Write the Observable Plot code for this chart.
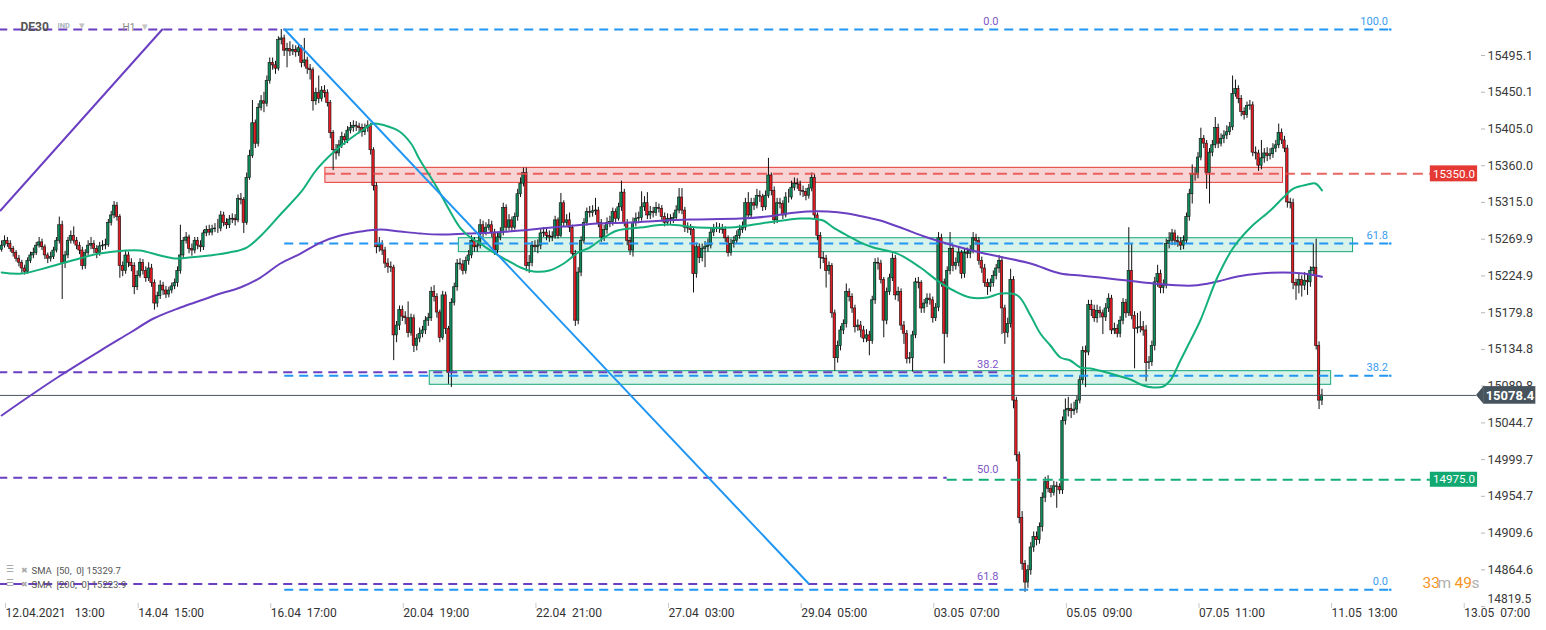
<!DOCTYPE html>
<html><head><meta charset="utf-8">
<script src="https://cdn.jsdelivr.net/npm/d3@7"></script>
<script src="https://cdn.jsdelivr.net/npm/@observablehq/plot@0.6"></script>
<style>
html,body{margin:0;padding:0;background:#fff;}
#chart svg{display:block;}
</style></head><body><div id="chart"></div>
<script>
// ---- hourly DE30 candles (bar index 0..458), open = previous close ----
const firstOpen = 15257;
const closes = [
15262,15268,15264,15258,15253,15246,15241,15234,15230,15243,
15250,15253,15262,15266,15260,15250,15246,15248,15256,15268,
15287,15241,15250,15268,15274,15268,15262,15256,15237,15253,
15262,15264,15258,15253,15261,15262,15263,15290,15299,15311,
15297,15237,15231,15250,15241,15237,15211,15225,15241,15231,
15222,15234,15216,15191,15200,15213,15207,15202,15207,15212,
15216,15231,15250,15268,15272,15258,15256,15268,15262,15260,
15277,15281,15278,15282,15283,15283,15299,15290,15287,15294,
15295,15293,15319,15318,15290,15345,15372,15412,15387,15431,
15439,15436,15464,15486,15483,15479,15514,15516,15501,15503,
15500,15502,15499,15504,15486,15489,15479,15477,15439,15449,
15442,15452,15449,15437,15400,15379,15375,15385,15395,15391,
15403,15406,15409,15408,15406,15401,15406,15409,15379,15335,
15260,15264,15256,15240,15236,15235,15152,15164,15183,15175,
15173,15155,15173,15139,15148,15154,15158,15170,15173,15205,
15199,15180,15149,15201,15160,15106,15192,15211,15240,15239,
15231,15243,15250,15268,15260,15262,15287,15278,15284,15287,
15278,15256,15272,15278,15308,15284,15293,15284,15297,15325,
15338,15351,15237,15241,15262,15260,15262,15277,15278,15274,
15272,15273,15293,15274,15314,15290,15293,15284,15252,15170,
15229,15268,15290,15303,15302,15304,15305,15290,15272,15281,
15290,15291,15303,15295,15309,15327,15290,15268,15256,15290,
15295,15296,15309,15314,15299,15303,15302,15308,15307,15297,
15290,15295,15294,15296,15305,15321,15305,15284,15283,15281,
15227,15260,15247,15258,15260,15262,15278,15283,15284,15283,
15281,15271,15253,15264,15268,15274,15281,15284,15314,15299,
15314,15311,15323,15322,15309,15323,15348,15329,15293,15314,
15313,15299,15321,15321,15333,15338,15337,15329,15328,15323,
15332,15345,15299,15274,15247,15246,15231,15237,15179,15124,
15139,15158,15166,15205,15199,15185,15162,15164,15158,15148,
15152,15145,15195,15241,15240,15220,15170,15205,15222,15246,
15201,15205,15164,15154,15123,15124,15152,15217,15216,15185,
15191,15197,15195,15173,15186,15271,15217,15154,15231,15258,
15237,15241,15253,15227,15253,15252,15256,15271,15268,15243,
15234,15216,15211,15216,15225,15234,15243,15185,15155,15166,
15220,15072,15005,14928,14872,14849,14864,14892,14905,14901,
14917,14953,14972,14964,14959,14967,14966,14962,15047,15060,
15062,15059,15061,15072,15097,15133,15131,15189,15183,15173,
15182,15179,15174,15185,15197,15158,15160,15154,15170,15192,
15179,15231,15176,15160,15161,15162,15158,15118,15119,15139,
15217,15227,15210,15213,15264,15268,15277,15268,15266,15262,
15268,15297,15325,15350,15349,15370,15393,15387,15351,15376,
15385,15406,15387,15393,15397,15401,15407,15448,15454,15442,
15426,15422,15433,15434,15376,15375,15360,15369,15375,15372,
15374,15381,15385,15400,15391,15381,15315,15314,15216,15213,
15220,15213,15219,15217,15231,15235,15139,15072,15078.4];
const highs = [
15268,15274,15272,15268,15261,15256,15250,15244,15238,15247,
15254,15259,15266,15272,15270,15263,15253,15254,15260,15272,
15297,15292,15255,15272,15280,15285,15272,15266,15260,15257,
15268,15272,15268,15262,15266,15268,15270,15294,15304,15316,
15315,15300,15242,15255,15254,15246,15241,15231,15246,15245,
15236,15241,15239,15220,15205,15219,15217,15212,15211,15216,
15221,15236,15287,15272,15278,15275,15264,15272,15272,15268,
15281,15286,15287,15287,15289,15294,15304,15303,15295,15299,
15301,15300,15324,15326,15321,15351,15379,15440,15416,15436,
15446,15450,15470,15492,15492,15488,15518,15527,15520,15510,
15512,15508,15507,15508,15507,15516,15493,15484,15480,15455,
15470,15457,15458,15453,15440,15403,15386,15391,15401,15399,
15408,15413,15415,15414,15412,15411,15411,15415,15412,15382,
15339,15272,15268,15260,15246,15242,15238,15169,15188,15188,
15181,15193,15178,15177,15153,15161,15163,15175,15179,15211,
15213,15203,15183,15206,15205,15163,15197,15216,15245,15246,
15244,15248,15256,15274,15272,15268,15294,15292,15290,15294,
15292,15282,15278,15284,15314,15312,15300,15297,15302,15331,
15345,15357,15357,15250,15267,15268,15269,15282,15284,15283,
15280,15279,15298,15296,15326,15317,15300,15302,15287,15256,
15235,15273,15295,15308,15310,15311,15320,15309,15294,15287,
15296,15298,15308,15307,15314,15341,15331,15294,15272,15296,
15302,15303,15328,15322,15327,15310,15309,15315,15313,15311,
15302,15301,15300,15302,15311,15332,15332,15309,15290,15288,
15284,15265,15264,15264,15267,15270,15284,15288,15290,15289,
15288,15285,15274,15270,15273,15280,15287,15291,15320,15327,
15320,15320,15331,15329,15325,15329,15369,15351,15334,15320,
15320,15317,15327,15331,15341,15345,15344,15341,15335,15332,
15337,15351,15349,15302,15278,15254,15250,15242,15240,15183,
15145,15163,15171,15215,15209,15203,15189,15171,15169,15163,
15159,15157,15200,15246,15247,15244,15223,15210,15227,15252,
15250,15211,15209,15169,15158,15131,15157,15222,15223,15219,
15196,15203,15203,15199,15191,15278,15276,15221,15236,15278,
15262,15247,15260,15256,15258,15259,15262,15278,15276,15272,
15248,15239,15221,15221,15231,15239,15250,15248,15189,15173,
15233,15224,15076,15009,14936,14876,14870,14898,14911,14911,
14922,14959,14978,14980,14968,14973,14972,14970,15052,15074,
15076,15068,15070,15078,15102,15138,15139,15195,15195,15189,
15189,15187,15183,15191,15203,15201,15167,15165,15175,15197,
15196,15284,15264,15181,15179,15181,15169,15164,15126,15145,
15223,15238,15232,15220,15270,15278,15282,15281,15274,15272,
15274,15302,15331,15361,15357,15376,15406,15397,15391,15381,
15391,15419,15411,15399,15403,15409,15413,15470,15465,15458,
15446,15431,15438,15440,15438,15383,15379,15391,15381,15382,
15381,15387,15391,15411,15405,15396,15385,15320,15319,15221,
15227,15225,15229,15227,15236,15264,15270,15144,15086];
const lows = [
15254,15259,15260,15254,15248,15242,15236,15228,15226,15227,
15240,15246,15250,15259,15256,15245,15240,15242,15245,15253,
15264,15196,15234,15246,15264,15264,15257,15251,15232,15233,
15249,15257,15252,15246,15249,15256,15257,15260,15286,15295,
15292,15222,15224,15227,15235,15230,15202,15207,15222,15226,
15217,15218,15211,15183,15186,15196,15201,15197,15198,15203,
15208,15211,15227,15246,15264,15252,15249,15252,15257,15254,
15256,15273,15274,15274,15278,15277,15279,15285,15282,15283,
15289,15286,15290,15312,15277,15287,15342,15369,15381,15383,
15427,15425,15432,15460,15477,15472,15476,15508,15494,15480,
15494,15495,15493,15494,15480,15481,15472,15465,15427,15434,
15436,15438,15443,15432,15393,15354,15367,15371,15381,15385,
15387,15399,15401,15402,15399,15395,15397,15401,15373,15329,
15252,15254,15250,15234,15228,15229,15121,15143,15158,15169,
15165,15149,15151,15131,15133,15143,15149,15153,15163,15169,
15193,15173,15143,15146,15153,15092,15088,15188,15206,15232,
15226,15227,15238,15246,15254,15254,15258,15272,15274,15280,
15272,15250,15252,15268,15274,15278,15280,15278,15281,15292,
15321,15334,15230,15228,15236,15254,15252,15257,15272,15268,
15266,15267,15270,15270,15272,15285,15286,15278,15248,15163,
15165,15224,15264,15286,15296,15297,15299,15284,15266,15267,
15276,15284,15286,15290,15292,15304,15285,15262,15250,15248,
15285,15289,15292,15304,15294,15294,15296,15298,15302,15291,
15285,15286,15288,15289,15292,15301,15300,15278,15277,15274,
15204,15222,15240,15242,15235,15254,15258,15273,15278,15277,
15276,15266,15248,15249,15259,15264,15270,15277,15280,15294,
15295,15305,15307,15315,15304,15305,15320,15323,15288,15289,
15307,15294,15296,15314,15318,15329,15331,15323,15321,15317,
15319,15328,15294,15268,15233,15240,15210,15226,15173,15108,
15118,15133,15153,15161,15193,15179,15155,15157,15149,15143,
15143,15127,15141,15190,15232,15215,15149,15165,15201,15218,
15195,15193,15158,15141,15117,15117,15107,15148,15209,15179,
15179,15186,15189,15167,15169,15181,15211,15117,15149,15226,
15230,15232,15236,15221,15222,15246,15246,15252,15262,15238,
15228,15211,15201,15205,15211,15220,15228,15153,15141,15149,
15161,15062,14997,14921,14864,14837,14842,14858,14886,14894,
14896,14911,14947,14959,14953,14955,14940,14957,14957,15042,
15052,15050,15054,15056,15068,15092,15088,15127,15175,15168,
15167,15173,15153,15169,15180,15153,15153,15149,15149,15165,
15173,15175,15171,15111,15154,15155,15151,15095,15110,15114,
15133,15211,15203,15203,15209,15258,15262,15262,15260,15256,
15257,15264,15292,15313,15341,15344,15366,15381,15331,15313,
15371,15381,15381,15383,15387,15392,15397,15403,15444,15436,
15420,15416,15418,15428,15371,15367,15353,15355,15363,15365,
15367,15369,15376,15381,15386,15376,15308,15307,15208,15195,
15203,15199,15207,15201,15211,15226,15134,15061,15066];

// ---- moving averages (sampled by bar index) ----
const sma50Idx = [0,7,17,27,34,43,48,55,60,65,72,79,85,90,97,104,109,115,121,125.5,129,133,138,142,145,151,155,159,162.6,166,170.6,175.5,180,184.5,190,195,200,204,209,213.6,221.6,231,241.4,252.8,265.6,277,280.6,285,288.5,293.4,298,302.4,310.7,318.7,324.6,330.2,336,342,346.5,352.4,356.9,360.3,363.8,367.3,370.7,374.2,377.7,384.6,391.6,396,399.5,403,405.4,408.9,412.4,415.8,421.7,427.3,433.2,440.1,444.6,448.1,453,455.7,458];
const sma50Val = [15229.1,15227.8,15236.4,15246.2,15252.3,15256.0,15256.0,15249.9,15246.2,15247.4,15249.9,15253.6,15259.7,15274.4,15301.4,15328.4,15354.1,15376.2,15393.3,15404.4,15411.7,15409.3,15401.9,15387.2,15367.6,15333.3,15307.5,15284.2,15272.0,15264.6,15253.6,15243.8,15235.2,15230.3,15231.5,15240.1,15253.6,15259.7,15272.0,15280.5,15284.2,15287.9,15284.2,15284.2,15290.3,15295.2,15295.2,15292.8,15284.2,15274.4,15265.8,15259.7,15252.3,15235.2,15219.2,15207.0,15198.4,15198.4,15203.3,15200.9,15176.3,15154.3,15139.6,15124.9,15121.2,15112.6,15111.4,15105.2,15097.9,15090.5,15088.1,15089.3,15096.7,15121.2,15145.7,15170.2,15222.9,15259.7,15284.2,15305.1,15321.0,15332.0,15336.9,15338.2,15329.7];
const sma200Idx = [0,10,20.4,34.3,44.7,52.7,62,69,75.9,82.8,89.8,96.7,103.7,110.6,117.5,124.5,131.4,138.3,145.3,152.2,161.6,170.6,180,186.9,194.9,206.7,218.1,229.6,238.9,256.3,265.6,272.6,279.5,286.5,293.4,300.3,304.8,311.8,321.1,330.2,339.5,347.5,356.9,367.3,374.2,381.1,390.5,399.5,413.4,421.7,428.7,436.6,444.6,451.6,458];
const sma200Val = [15053.8,15078.3,15102.8,15133.4,15155.5,15172.7,15186.1,15194.7,15203.3,15210.7,15222.9,15240.1,15252.3,15265.8,15274.4,15279.3,15281.8,15279.3,15276.9,15275.6,15276.9,15278.1,15280.5,15283.0,15285.4,15289.1,15290.3,15292.8,15294.0,15295.2,15297.7,15301.4,15303.8,15303.8,15301.4,15296.5,15292.8,15284.2,15272.0,15262.2,15253.6,15247.4,15240.1,15227.8,15225.4,15222.9,15219.2,15215.6,15213.1,15218.0,15224.1,15227.8,15229.1,15227.8,15223.9];

// ---- drawings (bar index / price) ----
const purpleFibLevels = [15527, 15106.8, 14977.4, 14847.2];
const purpleFibNames = ["0.0","38.2","50.0","61.8"];
const purpleFibStart = [-1, -1, -1, -1];
const purpleFibEnd = [98.2, 347.2, 328, 347.2];
const purpleFibLabelAt = 345.8;
const blueFibLevels = [15527, 15264.6, 15102.5, 14840.1];
const blueFibNames = ["100.0","61.8","38.2","0.0"];
const blueFibStart = 98.2, blueFibEnd = 481.7, blueFibLabelAt = 480.9;
const blueTrendIdx = [98.2, 279.9], blueTrendVal = [15527, 14847.8];
const purpleTrendIdx = [-0.4, 55.7], purpleTrendVal = [15305.1, 15527];
const redZone = {x1: 112.3, x2: 444.5, y1: 15339.0, y2: 15357.4};
const greenZoneX1 = [158.6, 148.5], greenZoneX2 = [468.8, 461.2];
const greenZoneY1 = [15254.0, 15091.4], greenZoneY2 = [15271.1, 15108.1];
const resistance = 15350.0, resistanceFrom = 112.3;
const support = 14975.0, supportFrom = 328;
const levelTo = 495.6, tagTo = 512.0;
const lastPrice = 15078.4;
const sma50Last = "15329.7", sma200Last = "15223.9";

// ---- axes ----
const xTickIdx = [1,47,93,139,185,231,277,323,369,415,461,507];
const NB = "\u00a0";
const xTickLabels = ["12.04.2021"+NB+NB+NB+"13:00","14.04"+NB+NB+"15:00","16.04"+NB+NB+"17:00","20.04"+NB+NB+"19:00","22.04"+NB+NB+"21:00","27.04"+NB+NB+"03:00","29.04"+NB+NB+"05:00","03.05"+NB+NB+"07:00","05.05"+NB+NB+"09:00","07.05"+NB+NB+"11:00","11.05"+NB+NB+"13:00","13.05"+NB+NB+"07:00"];
const yTickValues = [15495.1,15450.1,15405.0,15360.0,15315.0,15269.9,15224.9,15179.8,15134.8,15089.8,15044.7,14999.7,14954.7,14909.6,14864.6,14819.5];

// ---- build tables ----
const candles = closes.map((c, i) => {
  const o = i ? closes[i-1] : firstOpen;
  return {i, o, c, h: Math.max(highs[i], o, c), l: Math.min(lows[i], o, c)};
});
const upC = candles.filter(d => d.c >= d.o), dnC = candles.filter(d => d.c < d.o);
const sma50 = sma50Idx.map((x, k) => ({x, v: sma50Val[k]}));
const sma200 = sma200Idx.map((x, k) => ({x, v: sma200Val[k]}));
const pFib = purpleFibLevels.map((y, k) => ({y, x1: purpleFibStart[k], x2: purpleFibEnd[k], t: purpleFibNames[k]}));
const bFib = blueFibLevels.map((y, k) => ({y, t: blueFibNames[k]}));
const gZones = greenZoneX1.map((x1, k) => ({x1, x2: greenZoneX2[k], y1: greenZoneY1[k], y2: greenZoneY2[k]}));
const xLab = new Map(xTickIdx.map((d, k) => [d, xTickLabels[k]]));

const GREEN = "#0f8a5a", RED = "#e31b23", PURPLE = "#6b3fc2", BLUE = "#2196f3", SMA50C = "#13b07c";
const FONT = "Roboto, 'Open Sans', sans-serif";
const lbl = (s, o) => Plot.text([s], {text: d => d, fontFamily: FONT, ...o});

const chart = Plot.plot({
  width: 1546, height: 630,
  marginLeft: 0, marginRight: 66, marginTop: 0, marginBottom: 25,
  x: {type: "linear", domain: [-0.4, 513], range: [0, 1480], axis: null},
  y: {type: "linear", domain: [14819.5, 15495.1], range: [606.1, 55], axis: null},
  style: {fontFamily: FONT, background: "#fff", overflow: "visible"},
  marks: [
    // zones
    Plot.rect([redZone], {x1: "x1", x2: "x2", y1: "y1", y2: "y2", fill: "#f9d4d4", stroke: "#e53935", strokeWidth: 1}),
    Plot.rect(gZones, {x1: "x1", x2: "x2", y1: "y1", y2: "y2", fill: "#d7f3ea", stroke: "#17a57a", strokeWidth: 1}),
    // candles
    Plot.ruleX(candles, {x: "i", y1: "l", y2: "h", stroke: "#111", strokeWidth: 1}),
    Plot.rect(upC, {x1: d => d.i - 0.42, x2: d => d.i + 0.42, y1: "o", y2: "c", fill: GREEN, stroke: "#111", strokeWidth: 0.6}),
    Plot.rect(dnC, {x1: d => d.i - 0.42, x2: d => d.i + 0.42, y1: "o", y2: "c", fill: RED, stroke: "#111", strokeWidth: 0.6}),
    // fib levels
    Plot.ruleY(pFib, {y: "y", x1: "x1", x2: "x2", stroke: PURPLE, strokeWidth: 2, strokeDasharray: "9,6"}),
    Plot.ruleY(bFib, {y: "y", x1: blueFibStart, x2: blueFibEnd, stroke: BLUE, strokeWidth: 2, strokeDasharray: "9,6"}),
    Plot.dot(bFib, {x: blueFibEnd, y: "y", r: 1.3, fill: BLUE}),
    Plot.ruleY([resistance], {x1: resistanceFrom, x2: levelTo, stroke: "#e84a4a", strokeWidth: 2, strokeDasharray: "10,6", strokeOpacity: 0.85}),
    Plot.ruleY([support], {x1: supportFrom, x2: levelTo, stroke: "#13ad77", strokeWidth: 2, strokeDasharray: "10,6"}),
    Plot.ruleY([lastPrice], {x1: -0.4, x2: 511.6, stroke: "#4a545c", strokeWidth: 1}),
    // moving averages
    Plot.line(sma200, {x: "x", y: "v", stroke: PURPLE, strokeWidth: 2, curve: "catmull-rom"}),
    Plot.line(sma50, {x: "x", y: "v", stroke: SMA50C, strokeWidth: 2, curve: "catmull-rom"}),
    // trend lines
    Plot.line(blueTrendIdx.map((x, k) => ({x, v: blueTrendVal[k]})), {x: "x", y: "v", stroke: BLUE, strokeWidth: 2}),
    Plot.line(purpleTrendIdx.map((x, k) => ({x, v: purpleTrendVal[k]})), {x: "x", y: "v", stroke: PURPLE, strokeWidth: 2}),
    // fib labels
    Plot.text(pFib, {x: purpleFibLabelAt, y: "y", text: "t", dy: -8, textAnchor: "end", fill: "#7d55c7", fontSize: 11, fontFamily: FONT}),
    Plot.text(bFib, {x: blueFibLabelAt, y: "y", text: "t", dy: -8, textAnchor: "end", fill: "#3b9cf0", fontSize: 11, fontFamily: FONT}),
    // axes
    Plot.axisY(yTickValues.slice(0, -1), {anchor: "right", tickSize: 4, tickPadding: 3, tickFormat: d => d.toFixed(1), fontSize: 12.5, fill: "#3a3a3a", stroke: "#b8b8b8", textAnchor: "start"}),
    Plot.axisY(yTickValues.slice(-1), {anchor: "right", tickSize: 4, tickFormat: () => "", stroke: "#b8b8b8"}),
    Plot.text(yTickValues.slice(-1), {y: d => d, frameAnchor: "right", dx: 7, dy: -7, text: d => d.toFixed(1), textAnchor: "start", fontSize: 12, fill: "#3a3a3a", fontFamily: FONT}),
    Plot.axisX(xTickIdx, {anchor: "bottom", tickSize: 5, tickPadding: 0, dy: -2, dx: 1, tickFormat: d => xLab.get(d), textAnchor: "start", fontSize: 12, fill: "#333", stroke: "#c8c8c8"}),
    // price tags
    Plot.rect([resistance], {x1: levelTo, x2: tagTo, y1: d => d - 9.8, y2: d => d + 9.8, fill: "#e53935"}),
    Plot.text([resistance], {x: (levelTo + tagTo) / 2, y: d => d, text: d => d.toFixed(1), fill: "#fff", fontSize: 11.5, fontFamily: FONT}),
    Plot.rect([support], {x1: levelTo, x2: tagTo, y1: d => d - 9.2, y2: d => d + 9.2, fill: "#12a872"}),
    Plot.text([support], {x: (levelTo + tagTo) / 2, y: d => d, text: d => d.toFixed(1), fill: "#fff", fontSize: 11.5, fontFamily: FONT}),
    Plot.areaY([{x: 511.6, a: lastPrice, b: lastPrice}, {x: 514.2, a: lastPrice - 10.8, b: lastPrice + 10.8}], {x: "x", y1: "a", y2: "b", fill: "#46525c"}),
    Plot.rect([lastPrice], {x1: 514.1, x2: 532.2, y1: d => d - 10.8, y2: d => d + 10.8, fill: "#46525c"}),
    Plot.text([lastPrice], {x: 523.2, y: d => d, text: d => d.toFixed(1), fill: "#fff", fontSize: 13, fontWeight: "bold", fontFamily: FONT}),
    // header
    lbl("DE30", {frameAnchor: "top-left", dx: 20, dy: 22, textAnchor: "start", fontSize: 12, fontWeight: "bold", fill: "#555"}),
    lbl("IND", {frameAnchor: "top-left", dx: 57, dy: 22, textAnchor: "start", fontSize: 7.5, fontWeight: "bold", fill: "#aab3bc"}),
    lbl("\u25BE", {frameAnchor: "top-left", dx: 78, dy: 21, textAnchor: "start", fontSize: 11, fill: "#c4c4c4"}),
    lbl("H1", {frameAnchor: "top-left", dx: 122, dy: 23, textAnchor: "start", fontSize: 10, fill: "#888"}),
    lbl("\u25BE", {frameAnchor: "top-left", dx: 141, dy: 22, textAnchor: "start", fontSize: 11, fill: "#c4c4c4"}),
    // SMA legend
    lbl("\u2630", {frameAnchor: "bottom-left", dx: 5, dy: -34, textAnchor: "start", fontSize: 9, fill: "#9a9a9a"}),
    lbl("\u2716", {frameAnchor: "bottom-left", dx: 20, dy: -33, textAnchor: "start", fontSize: 8, fill: "#aaa"}),
    lbl("SMA  [50,  0] " + sma50Last, {frameAnchor: "bottom-left", dx: 31, dy: -32, textAnchor: "start", fontSize: 9.5, fill: "#555"}),
    lbl("\u2630", {frameAnchor: "bottom-left", dx: 5, dy: -20, textAnchor: "start", fontSize: 9, fill: "#9a9a9a"}),
    lbl("\u2716", {frameAnchor: "bottom-left", dx: 20, dy: -19, textAnchor: "start", fontSize: 8, fill: "#aaa"}),
    lbl("SMA  [200,  0] " + sma200Last, {frameAnchor: "bottom-left", dx: 31, dy: -18, textAnchor: "start", fontSize: 9.5, fill: "#555"}),
    // candle timer
    lbl("33", {frameAnchor: "bottom-right", dx: -58, dy: -18, textAnchor: "start", fontSize: 15.5, fill: "#f7941d"}),
    lbl("m", {frameAnchor: "bottom-right", dx: -43, dy: -18, textAnchor: "start", fontSize: 15.5, fill: "#b0b0b0"}),
    lbl("49", {frameAnchor: "bottom-right", dx: -26, dy: -18, textAnchor: "start", fontSize: 15.5, fill: "#f7941d"}),
    lbl("s", {frameAnchor: "bottom-right", dx: -9, dy: -18, textAnchor: "start", fontSize: 15.5, fill: "#b0b0b0"})
  ]
});
document.getElementById("chart").append(chart);
</script>
</body></html>
